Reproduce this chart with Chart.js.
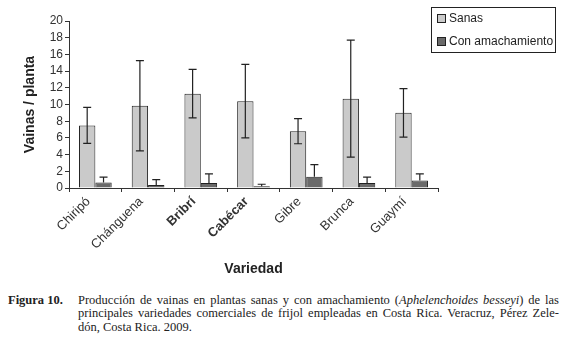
<!DOCTYPE html>
<html>
<head>
<meta charset="utf-8">
<script src="https://cdn.jsdelivr.net/npm/chart.js@4"></script>
<style>
  body { margin: 0; background: #fff; }
  #wrap { position: relative; width: 564px; height: 345px; }
  #c { position: absolute; left: 0; top: 0; }
  #legend {
    position: absolute; left: 431px; top: 7px; width: 123px; height: 44px;
    border: 1px solid #222; font: 12px "Liberation Sans", Arial, sans-serif; color: #222;
  }
  #legend div { position: absolute; left: 5px; white-space: nowrap; }
  #legend span {
    display: inline-block; width: 7px; height: 7px; border: 1px solid #222;
    margin-right: 3px; vertical-align: -1px;
  }
  #caption {
    position: absolute; top: 294px; left: 8px; width: 551px;
    font: 12.5px "Liberation Serif", "Times New Roman", serif; color: #222; line-height: 13.3px;
  }
  #caption b { position: absolute; left: 0; top: 0; }
  #caption div { margin-left: 70px; white-space: nowrap; }
  #caption .j { text-align: justify; text-align-last: justify; white-space: normal; }
</style>
</head>
<body>
<div id="wrap">
  <canvas id="c" width="564" height="290"></canvas>
  <div id="legend"></div>
  <div id="caption">
    <b>Figura 10.</b>
    <div class="j">Producción de vainas en plantas sanas y con amachamiento (<i>Aphelenchoides besseyi</i>) de las</div>
    <div class="j">principales variedades comerciales de frijol empleadas en Costa Rica. Veracruz, Pérez Zele-</div>
    <div>dón, Costa Rica. 2009.</div>
  </div>
</div>
<script>
const varieties = ['Chiripó', 'Chánguena', 'Bribrí', 'Cabécar', 'Gibre', 'Brunca', 'Guaymí'];
const sanas = [7.5, 9.85, 11.3, 10.4, 6.8, 10.7, 9.0];
const sanasErr = [2.15, 5.4, 2.9, 4.4, 1.5, 7.0, 2.9];
const amach = [0.65, 0.35, 0.6, 0.2, 1.35, 0.6, 0.9];
const amachErr = [0.65, 0.65, 1.1, 0.25, 1.45, 0.7, 0.8];
const yTicks = [0, 2, 4, 6, 8, 10, 12, 14, 16, 18, 20];

const sanasColor = '#cacaca';
const amachColor = '#6a6a6a';

const errorBars = {
  id: 'errorBars',
  afterDatasetsDraw(chart) {
    const ctx = chart.ctx;
    const y = chart.scales.y;
    const errs = [sanasErr, amachErr];
    ctx.save();
    ctx.strokeStyle = '#222';
    ctx.lineWidth = 1.2;
    chart.data.datasets.forEach((ds, i) => {
      const meta = chart.getDatasetMeta(i);
      meta.data.forEach((bar, j) => {
        const v = ds.data[j];
        const e = errs[i][j];
        const x = bar.x;
        const top = y.getPixelForValue(v + e);
        const bot = i === 0 ? y.getPixelForValue(v - e) : y.getPixelForValue(v);
        ctx.beginPath();
        ctx.moveTo(x, top); ctx.lineTo(x, bot);
        ctx.moveTo(x - 4, top); ctx.lineTo(x + 4, top);
        if (i === 0) { ctx.moveTo(x - 4, bot); ctx.lineTo(x + 4, bot); }
        ctx.stroke();
      });
    });
    ctx.restore();
  }
};

const chart = new Chart(document.getElementById('c'), {
  type: 'bar',
  data: {
    labels: varieties,
    datasets: [
      { label: 'Sanas', data: sanas, backgroundColor: sanasColor, borderColor: '#222', borderWidth: 1 },
      { label: 'Con amachamiento', data: amach, backgroundColor: amachColor, borderColor: '#222', borderWidth: 1 }
    ]
  },
  options: {
    responsive: false,
    animation: false,
    layout: { padding: { left: 0, top: 21, right: 126, bottom: 0 } },
    plugins: { legend: { display: false }, tooltip: { enabled: false } },
    datasets: { bar: { categoryPercentage: 0.62, barPercentage: 1 } },
    scales: {
      x: {
        grid: { drawOnChartArea: false, tickLength: 4, color: '#333' },
        border: { color: '#333' },
        ticks: {
          minRotation: 45, maxRotation: 45, color: '#333', padding: 2, labelOffset: -7,
          font: (c) => ({ family: 'Liberation Sans', size: 13,
            weight: (c.index === 2 || c.index === 3) ? 'bold' : 'normal' })
        },
        title: { display: true, text: 'Variedad', color: '#222',
          font: { family: 'Liberation Sans', size: 14, weight: 'bold' }, padding: { top: 4, bottom: 12 } },
        afterFit: (s) => { s.height = 102; }
      },
      y: {
        min: 0, max: 20,
        afterBuildTicks: (s) => { s.ticks = yTicks.map(v => ({ value: v })); },
        grid: { drawOnChartArea: false, tickLength: 4, color: '#333' },
        border: { color: '#333' },
        ticks: { autoSkip: false, color: '#333', padding: 2, font: { family: 'Liberation Sans', size: 12 } },
        title: { display: true, text: 'Vainas / planta', color: '#222',
          font: { family: 'Liberation Sans', size: 14, weight: 'bold' }, padding: { top: 22, bottom: 0 } },
        afterFit: (s) => { s.width = 69; }
      }
    }
  },
  plugins: [errorBars]
});

const legend = document.getElementById('legend');
chart.data.datasets.forEach((ds, i) => {
  const d = document.createElement('div');
  d.style.top = (i === 0 ? 3 : 26) + 'px';
  d.innerHTML = '<span style="background:' + ds.backgroundColor + '"></span>' + ds.label;
  legend.appendChild(d);
});
</script>
</body>
</html>
